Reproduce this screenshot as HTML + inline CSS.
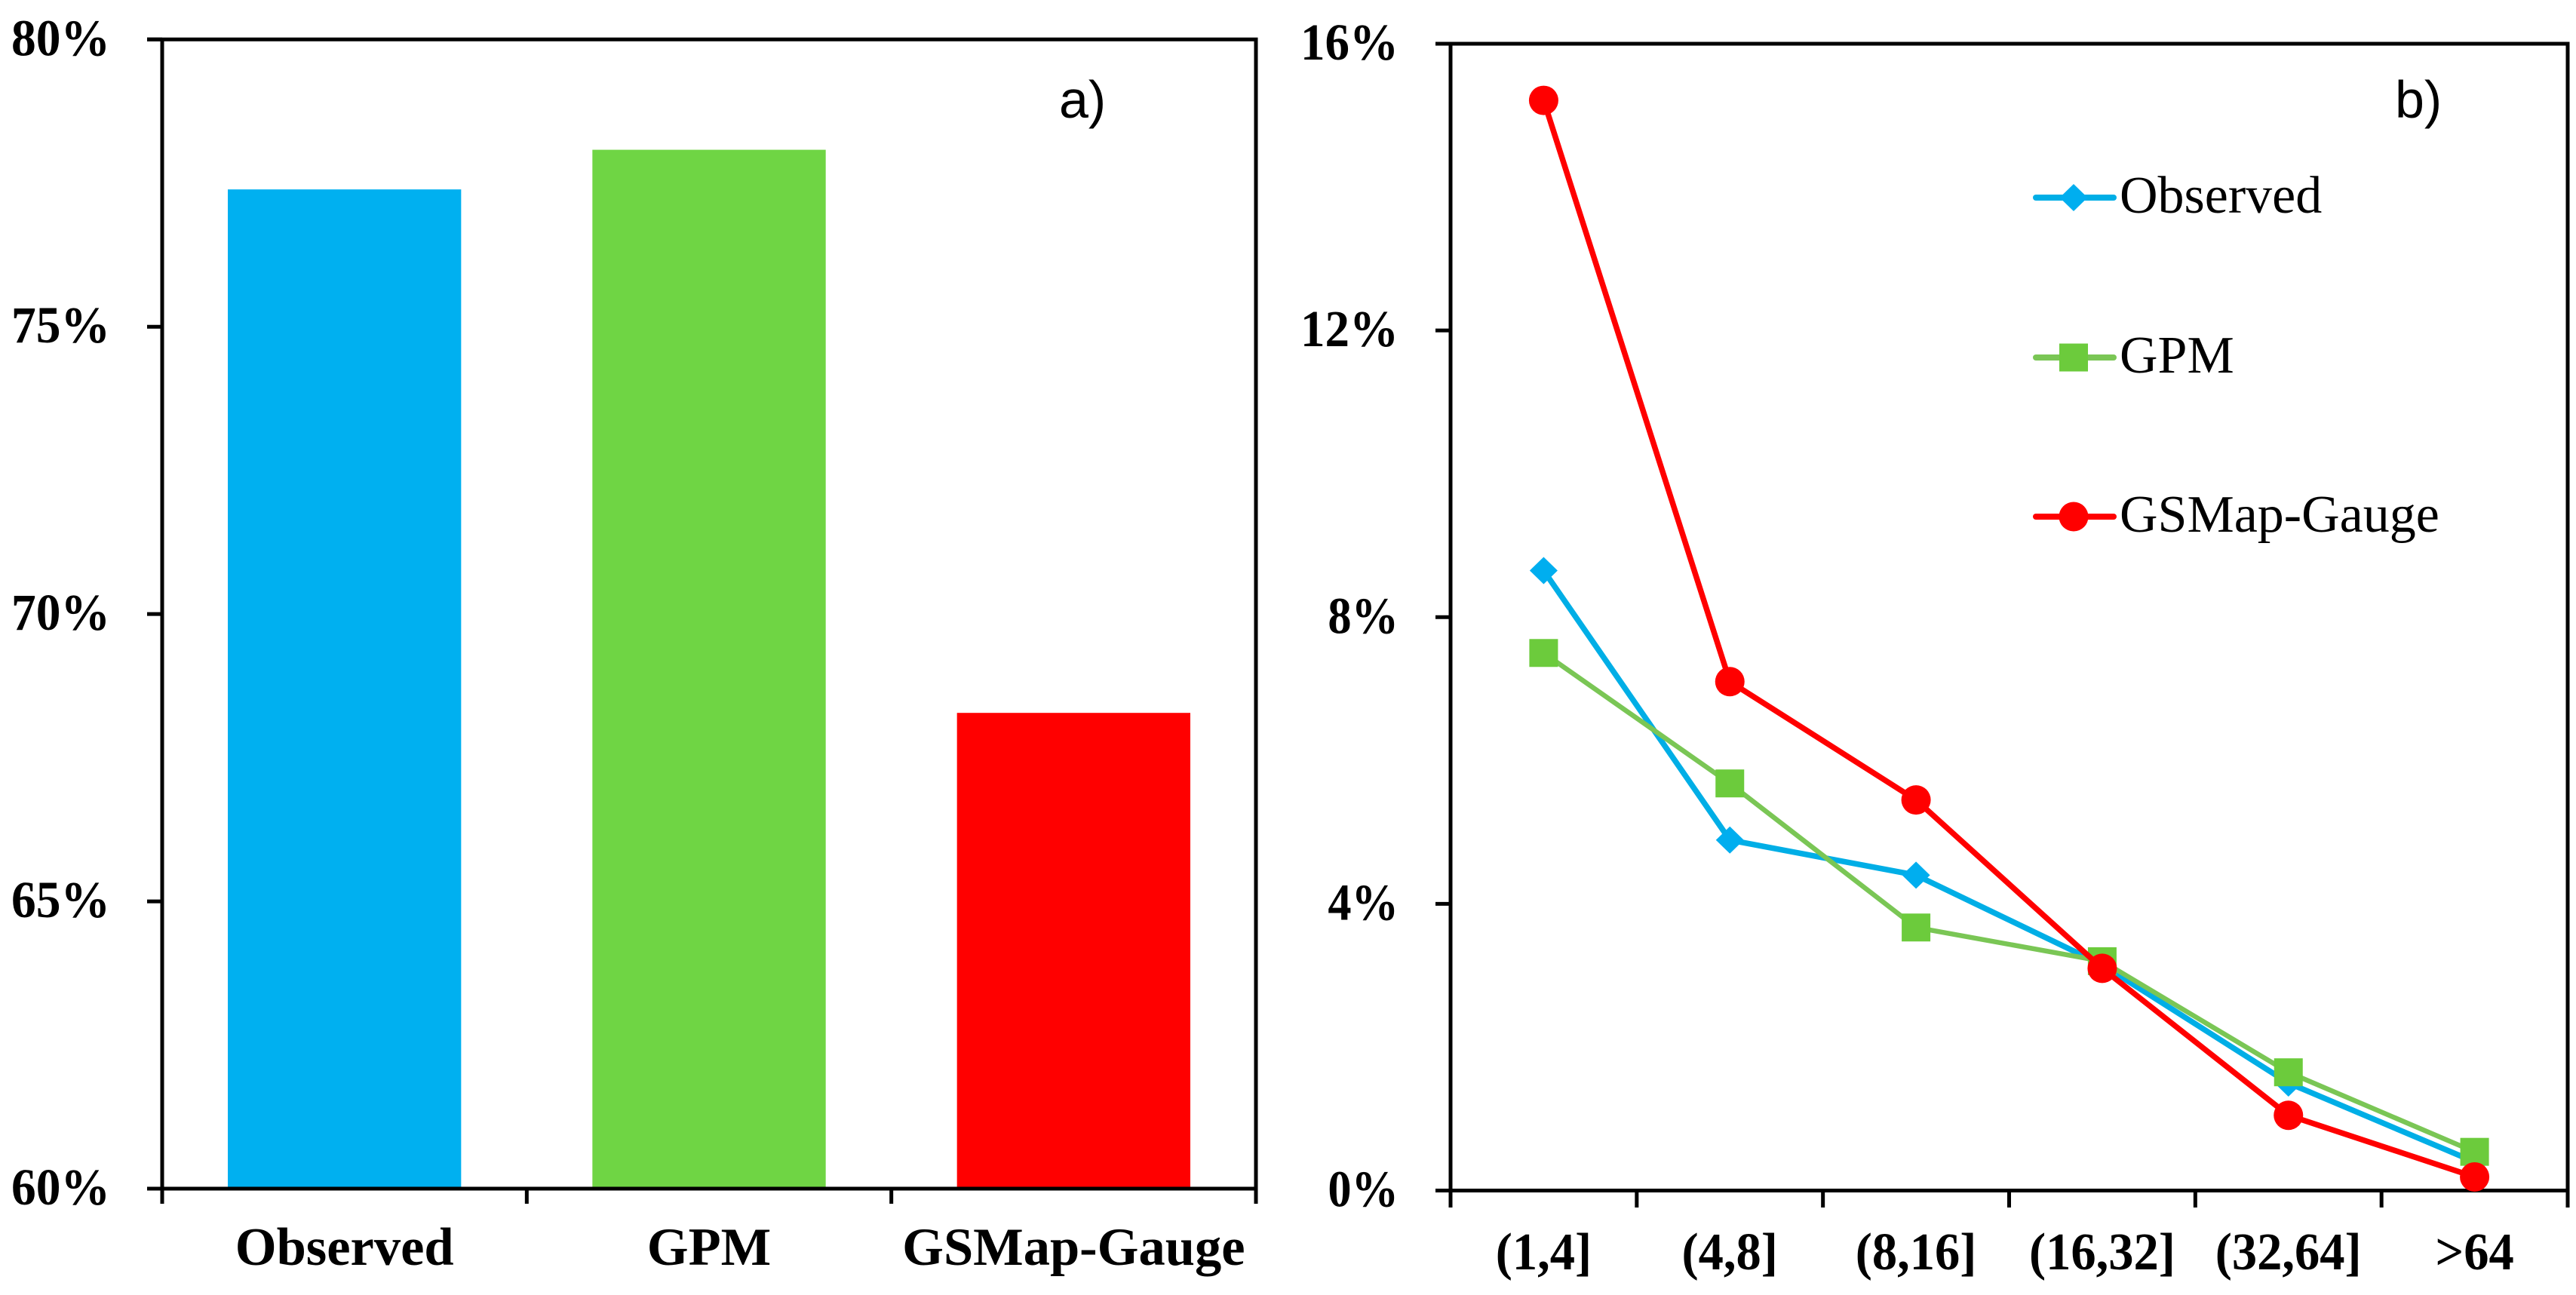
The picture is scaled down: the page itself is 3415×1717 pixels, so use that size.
<!DOCTYPE html>
<html lang="en">
<head>
<meta charset="utf-8">
<title>Observed, GPM and GSMap-Gauge comparison</title>
<style>
  html, body { margin: 0; padding: 0; background: #fff; }
  body { width: 3415px; height: 1717px; overflow: hidden; }
  svg { display: block; }
  text { fill: #000; }
  .serif { font-family: "Liberation Serif", serif; }
  .sans { font-family: "Liberation Sans", sans-serif; }
</style>
</head>
<body>
<svg id="chart" xmlns="http://www.w3.org/2000/svg" width="3415" height="1717" viewBox="0 0 3415 1717">
  <rect width="3415" height="1717" fill="#ffffff"/>
  <g id="panelA"></g>
  <g id="panelB"></g>
  <text class="sans" x="1404" y="156" font-size="70">a)</text>
  <text class="sans" x="3175" y="156" font-size="70">b)</text>
</svg>
<script>
// Panel a data
const barCategories = ['Observed', 'GPM', 'GSMap-Gauge'];
const barValues = [77.39, 78.08, 68.28];
const barColors = ['#00B0F0', '#6FD544', '#FF0000'];
const barTicks = [60, 65, 70, 75, 80];
const barTickLabels = ['60%', '65%', '70%', '75%', '80%'];

// Panel b data
const lineCategories = ['(1,4]', '(4,8]', '(8,16]', '(16,32]', '(32,64]', '>64'];
const observedValues = [8.65, 4.89, 4.4, 3.15, 1.5, 0.4];
const gpmValues = [7.5, 5.68, 3.67, 3.2, 1.65, 0.54];
const gsmapValues = [15.21, 7.1, 5.45, 3.1, 1.05, 0.19];
const lineTicks = [0, 4, 8, 12, 16];
const lineTickLabels = ['0%', '4%', '8%', '12%', '16%'];

const NS = 'http://www.w3.org/2000/svg';

function make(tag, parent, attrs, content) {
  const el = document.createElementNS(NS, tag);
  for (const k in attrs) el.setAttribute(k, attrs[k]);
  if (content !== undefined) el.textContent = content;
  parent.appendChild(el);
  return el;
}

function drawFrame(parent, box, scaleY, ticks, labels, count, labelWidth) {
  // y ticks and labels
  ticks.forEach(function (t, i) {
    const y = scaleY(t);
    const tick = make('line', parent, { x1: box.left - 20, x2: box.left, y1: y, y2: y, stroke: '#000', 'stroke-width': 5 });
    
    
    const w = labels[i].length === 3 ? labelWidth : labelWidth * 0.72;
    const lab = make('text', parent, {
      x: box.labelRight - w, y: y + 21, 'font-size': 69, 'font-weight': 'bold', class: 'serif',
      textLength: w, lengthAdjust: 'spacingAndGlyphs'
    }, labels[i]);
    
    
  });
  // x ticks
  const step = (box.right - box.left) / count;
  for (let i = 0; i <= count; i++) {
    const x = box.left + step * i;
    const tick = make('line', parent, { x1: x, x2: x, y1: box.bottom, y2: box.tickEnd, stroke: '#000', 'stroke-width': 5 });
    
    
  }
  // plot border
  const top = make('line', parent, { x1: box.left - 20, x2: box.right + 2.5, y1: box.top, y2: box.top, stroke: '#000', 'stroke-width': 5 });
  
  
  const left = make('line', parent, { x1: box.left, x2: box.left, y1: box.top, y2: box.bottom, stroke: '#000', 'stroke-width': 5 });
  
  
  const right = make('line', parent, { x1: box.right, x2: box.right, y1: box.top - 2, y2: box.bottom, stroke: '#000', 'stroke-width': 5 });
  
  
  const bottom = make('line', parent, { x1: box.left - 20, x2: box.right + 2.5, y1: box.bottom, y2: box.bottom, stroke: '#000', 'stroke-width': 5 });
  
  
}

// ---------- Panel a ----------
const boxA = { left: 215, right: 1665, top: 52.3, bottom: 1576, tickEnd: 1596, labelRight: 146 };
const yA = function (v) { return boxA.bottom - (v - 60) / 20 * (boxA.bottom - boxA.top); };
const bandA = (boxA.right - boxA.left) / barCategories.length;
const xA = function (i) { return boxA.left + bandA * (i + 0.5); };
const panelA = document.getElementById('panelA');

barValues.forEach(function (v, i) {
  const bw = bandA * 0.64;
  const bar = make('rect', panelA, { x: xA(i) - bw / 2, y: yA(v), width: bw, height: boxA.bottom - yA(v), fill: barColors[i] });
  
  
});
drawFrame(panelA, boxA, yA, barTicks, barTickLabels, barCategories.length, 131);
barCategories.forEach(function (c, i) {
  const lab = make('text', panelA, { x: xA(i), y: 1677, 'font-size': 70.5, 'font-weight': 'bold', 'text-anchor': 'middle', class: 'serif' }, c);
  
  
});

// ---------- Panel b ----------
const boxB = { left: 1923, right: 3404, top: 58, bottom: 1578.5, tickEnd: 1601, labelRight: 1854 };
const yB = function (v) { return boxB.bottom - v / 16 * (boxB.bottom - boxB.top); };
const bandB = (boxB.right - boxB.left) / lineCategories.length;
const xB = function (i) { return boxB.left + bandB * (i + 0.5); };
const panelB = document.getElementById('panelB');

drawFrame(panelB, boxB, yB, lineTicks, lineTickLabels, lineCategories.length, 130);
lineCategories.forEach(function (c, i) {
  const lab = make('text', panelB, { x: xB(i), y: 1683, 'font-size': 70, 'font-weight': 'bold', 'text-anchor': 'middle', class: 'serif', lengthAdjust: 'spacingAndGlyphs' }, c);
  lab.setAttribute('textLength', lab.getComputedTextLength() * 0.95);
  
  
});

function marker(parent, shape, x, y, color) {
  if (shape === 'diamond') {
    return make('polygon', parent, { points: (x - 18.5) + ',' + y + ' ' + x + ',' + (y - 18) + ' ' + (x + 18.5) + ',' + y + ' ' + x + ',' + (y + 18), fill: color });
  }
  if (shape === 'square') {
    return make('rect', parent, { x: x - 19, y: y - 18.5, width: 38, height: 37, fill: color });
  }
  return make('circle', parent, { cx: x, cy: y, r: 19.5, fill: color });
}

function drawSeries(name, values, lineColor, markerColor, shape, lineWidth) {
  const g = make('g', panelB, {});
  
  
  const pts = values.map(function (v, i) { return xB(i) + ',' + yB(v); }).join(' ');
  const line = make('polyline', g, { points: pts, fill: 'none', stroke: lineColor, 'stroke-width': lineWidth, 'stroke-linejoin': 'round' });
  
  
  values.forEach(function (v, i) {
    const m = marker(g, shape, xB(i), yB(v), markerColor);
    
    
  });
}
drawSeries('observed', observedValues, '#00AEE6', '#00AEEF', 'diamond', 7.5);
drawSeries('gpm', gpmValues, '#7AC655', '#6CCB3C', 'square', 6.5);
drawSeries('gsmap-gauge', gsmapValues, '#FF0000', '#FF0000', 'circle', 7.5);

// ---------- Legend ----------
const legendNames = ['Observed', 'GPM', 'GSMap-Gauge'];
const legendLine = ['#00AEE6', '#7AC655', '#FF0000'];
const legendMark = ['#00AEEF', '#6CCB3C', '#FF0000'];
const legendShape = ['diamond', 'square', 'circle'];
const legendY = [262, 474, 685];
legendNames.forEach(function (n, i) {
  const g = make('g', panelB, {});
  
  
  const sw = make('line', g, { x1: 2699, x2: 2802, y1: legendY[i], y2: legendY[i], stroke: legendLine[i], 'stroke-width': 8, 'stroke-linecap': 'round' });
  
  
  const m = marker(g, legendShape[i], 2749, legendY[i], legendMark[i]);
  
  
  const t = make('text', g, { x: 2810, y: legendY[i] + 20, 'font-size': 70, class: 'serif' }, n);
  
  
});
</script>
</body>
</html>
